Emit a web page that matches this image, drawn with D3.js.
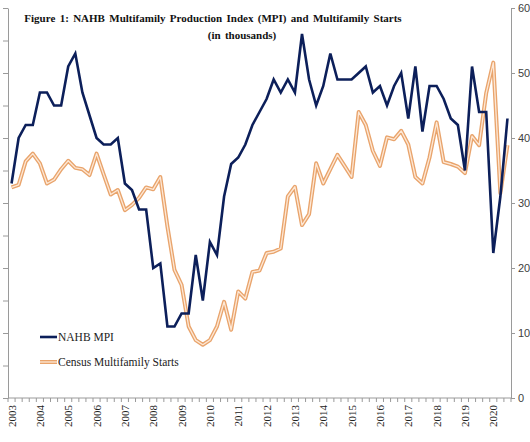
<!DOCTYPE html>
<html>
<head>
<meta charset="utf-8">
<script src="https://cdn.jsdelivr.net/npm/d3@7"></script>
<style>
  html, body { margin: 0; padding: 0; background: #ffffff; }
  svg { display: block; }
</style>
</head>
<body>
<svg id="chart" width="530" height="442"></svg>
<script>
// ---------------- DATA ----------------
const years = ["2003","2004","2005","2006","2007","2008","2009","2010","2011","2012","2013","2014","2015","2016","2017","2018","2019","2020"];
const quarterNames = ["Q1","Q2","Q3","Q4"];
const quarters = years.flatMap(y => quarterNames.map(q => y + q)).slice(0, 71);

const mpi = [33, 40, 42, 42, 47, 47, 45, 45, 51, 53, 47, 43.5, 40, 39, 39, 40,
             33, 32, 29, 29, 20, 20.7, 11, 11, 13, 13, 22, 15, 24, 22, 31, 36,
             37, 39, 42, 44, 46, 49, 47, 49, 47, 56, 49, 45, 48, 53, 49, 49,
             49, 50, 51, 47, 48, 45, 48, 50, 43, 51, 41, 48, 48, 46, 43, 42,
             35, 51, 44, 44, 22.3, 31, 43];

const starts = [32.4, 32.8, 36.4, 37.6, 36.1, 33, 33.6, 35.2, 36.5, 35.4, 35.2, 34.3, 37.6, 34.4, 31.3, 32,
                28.9, 29.7, 30.8, 32.4, 32.1, 34, 26.4, 19.7, 17.4, 11, 8.9, 8.2, 8.9, 11, 14.8, 10.5,
                16.4, 15.3, 19.4, 19.6, 22.3, 22.5, 23, 31, 32.5, 26.6, 28.3, 36.1, 33, 35.2, 37.4, 35.7,
                34, 44, 42, 38, 35.7, 40.1, 39.8, 41.1, 39, 34, 33, 37, 42.4, 36.3, 36, 35.6,
                34.6, 40.3, 38.9, 46.9, 51.6, 31.5, 38.9];

const rightTicks = [0, 10, 20, 30, 40, 50, 60];
const leftTicks = [0, 5, 10, 15, 20, 25, 30, 35, 40, 45, 50, 55, 60];
const seriesNames = ["NAHB MPI", "Census Multifamily Starts"];
const titleLines = ["Figure 1: NAHB Multifamily Production Index (MPI) and Multifamily Starts", "(in thousands)"];

// ---------------- LAYOUT ----------------
const svg = d3.select("#chart");
const plot = { left: 8, right: 511, top: 8, bottom: 398 };
const navy = "#0c1f5a";
const orangeEdge = "#e9a46c";
const orangeCore = "#fde8d6";
const axisGray = "#9a9a9a";

const x = d3.scalePoint().domain(quarters).range([plot.left, plot.right]).padding(0.5);
const xb = d3.scaleBand().domain(quarters).range([plot.left, plot.right]).paddingInner(0).paddingOuter(0);
const y = d3.scaleLinear().domain([0, 60]).range([plot.bottom, plot.top]);

// Left axis (no labels)
const leftAxis = svg.append("g").attr("transform", `translate(${plot.left},0)`)
  .call(d3.axisLeft(y).tickValues(leftTicks).tickFormat("").tickSize(5).tickSizeOuter(0));
leftAxis.selectAll("path, line").attr("stroke", axisGray);

// Right axis
const rightAxis = svg.append("g").attr("transform", `translate(${plot.right},0)`)
  .call(d3.axisRight(y).tickValues(rightTicks).tickSize(4).tickSizeOuter(0).tickPadding(3));
rightAxis.selectAll("path, line").attr("stroke", axisGray);
rightAxis.selectAll("text").attr("fill", "#404040").style("font-family", "Liberation Sans, Arial, sans-serif").style("font-size", "11px");

// Bottom axis line and minor ticks at category boundaries
const bottom = svg.append("g");
bottom.append("line").attr("x1", plot.left).attr("x2", plot.right)
  .attr("y1", plot.bottom).attr("y2", plot.bottom).attr("stroke", axisGray);
bottom.selectAll("line.tick").data(quarters.concat(["__end"])).join("line")
  .attr("class", "tick")
  .attr("x1", (d) => d === "__end" ? plot.right : xb(d))
  .attr("x2", (d) => d === "__end" ? plot.right : xb(d))
  .attr("y1", plot.bottom).attr("y2", plot.bottom + 4)
  .attr("stroke", axisGray);

// Year labels (rotated)
bottom.selectAll("text.year").data(years).join("text")
  .attr("class", "year")
  .attr("transform", d => `translate(${x(d + "Q1") + 4},${plot.bottom + 7}) rotate(-90)`)
  .attr("text-anchor", "end")
  .attr("fill", "#222")
  .style("font-family", "Liberation Serif, Times New Roman, serif")
  .style("font-size", "11px")
  .text(d => d);

// Lines
const line = d3.line().x((d, i) => x(quarters[i])).y(d => y(d));

svg.append("path").datum(starts).attr("d", line)
  .attr("fill", "none").attr("stroke", orangeEdge).attr("stroke-width", 4).attr("stroke-linejoin", "round");
svg.append("path").datum(starts).attr("d", line)
  .attr("fill", "none").attr("stroke", orangeCore).attr("stroke-width", 1.3).attr("stroke-linejoin", "round");

svg.append("path").datum(mpi).attr("d", line)
  .attr("fill", "none").attr("stroke", navy).attr("stroke-width", 2.6).attr("stroke-linejoin", "miter");

// Title
const title = svg.append("g")
  .style("font-family", "Liberation Serif, Times New Roman, serif")
  .style("font-weight", "bold")
  .style("font-size", "11px")
  .attr("fill", "#111");
title.append("text").attr("x", 213).attr("y", 22).attr("text-anchor", "middle").attr("word-spacing", "1.6px").text(titleLines[0]);
title.append("text").attr("x", 242).attr("y", 39).attr("text-anchor", "middle").attr("word-spacing", "1.6px").text(titleLines[1]);

// Legend
const legend = svg.append("g")
  .style("font-family", "Liberation Serif, Times New Roman, serif")
  .style("font-size", "11.5px");
const lg1 = legend.append("g").attr("transform", "translate(40,337)");
lg1.append("line").attr("x1", 0).attr("x2", 17).attr("stroke", navy).attr("stroke-width", 2.6);
lg1.append("text").attr("x", 18).attr("y", 4).attr("fill", "#222").text(seriesNames[0]);
const lg2 = legend.append("g").attr("transform", "translate(40,362)");
lg2.append("line").attr("x1", 0).attr("x2", 17).attr("stroke", orangeEdge).attr("stroke-width", 4);
lg2.append("line").attr("x1", 0).attr("x2", 17).attr("stroke", orangeCore).attr("stroke-width", 1.3);
lg2.append("text").attr("x", 18).attr("y", 4).attr("fill", "#222").text(seriesNames[1]);
</script>
</body>
</html>
